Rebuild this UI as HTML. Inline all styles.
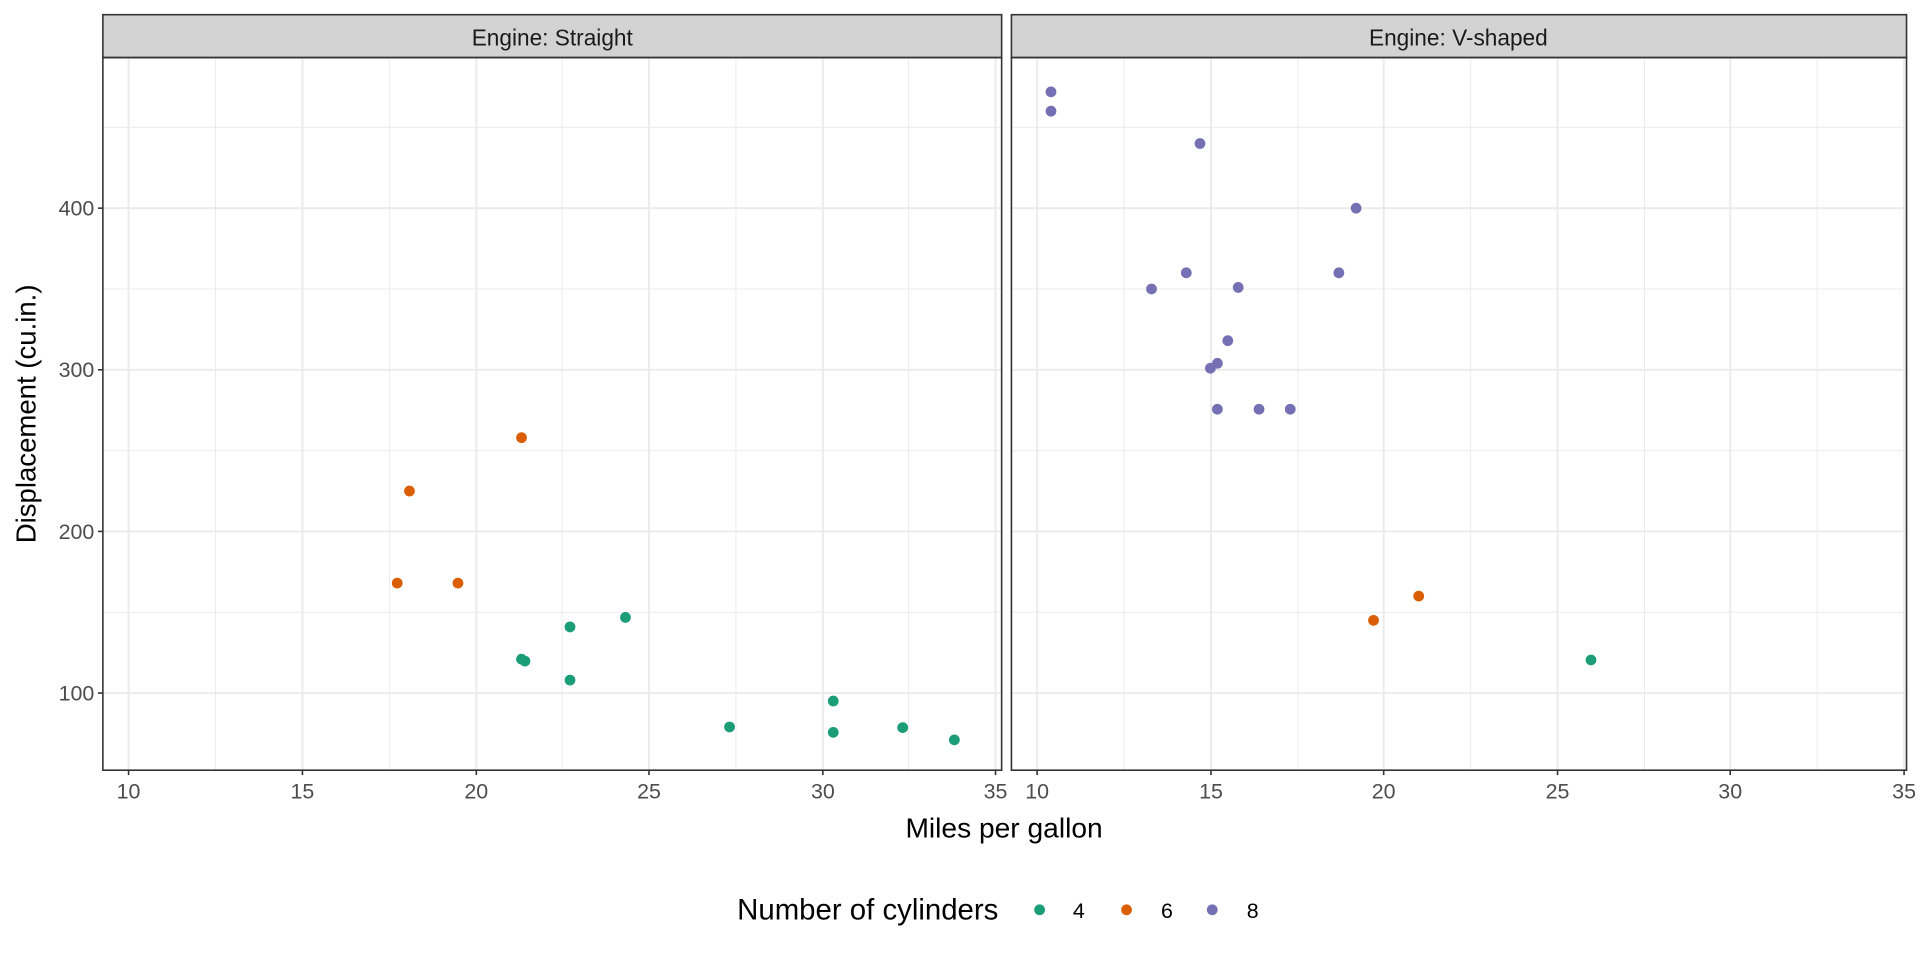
<!DOCTYPE html>
<html><head><style>html,body{margin:0;padding:0;background:#fff}svg{display:block}</style></head>
<body>
<svg width="1920" height="960" viewBox="0 0 1568 784" xmlns="http://www.w3.org/2000/svg" font-family="Liberation Sans, sans-serif">
<rect width="1568" height="784" fill="#fff"/>
<!-- Panel 1 -->
<g>
 <g stroke="#ebebeb" stroke-width="0.8">
  <line x1="84" x2="818" y1="500" y2="500"/><line x1="84" x2="818" y1="368" y2="368"/><line x1="84" x2="818" y1="236" y2="236"/><line x1="84" x2="818" y1="104" y2="104"/>
  <line y1="47" y2="629" x1="176" x2="176"/><line y1="47" y2="629" x1="318" x2="318"/><line y1="47" y2="629" x1="459" x2="459"/><line y1="47" y2="629" x1="601" x2="601"/><line y1="47" y2="629" x1="742" x2="742"/>
 </g>
 <g stroke="#ebebeb" stroke-width="1.6">
  <line x1="84" x2="818" y1="566" y2="566"/><line x1="84" x2="818" y1="434" y2="434"/><line x1="84" x2="818" y1="302" y2="302"/><line x1="84" x2="818" y1="170" y2="170"/>
  <line y1="47" y2="629" x1="105" x2="105"/><line y1="47" y2="629" x1="247" x2="247"/><line y1="47" y2="629" x1="389" x2="389"/><line y1="47" y2="629" x1="530" x2="530"/><line y1="47" y2="629" x1="672" x2="672"/><line y1="47" y2="629" x1="813" x2="813"/>
 </g>
 <rect x="84" y="12" width="734" height="35" fill="#d3d3d3" stroke="#333" stroke-width="1.3"/>
 <text x="451" y="37" font-size="18.5" text-anchor="middle" fill="#1a1a1a">Engine: Straight</text>
 <rect x="84" y="47" width="734" height="582" fill="none" stroke="#333" stroke-width="1.3"/>
</g>
<!-- Panel 2 -->
<g>
 <g stroke="#ebebeb" stroke-width="0.8">
  <line x1="826" x2="1557" y1="500" y2="500"/><line x1="826" x2="1557" y1="368" y2="368"/><line x1="826" x2="1557" y1="236" y2="236"/><line x1="826" x2="1557" y1="104" y2="104"/>
  <line y1="47" y2="629" x1="918" x2="918"/><line y1="47" y2="629" x1="1060" x2="1060"/><line y1="47" y2="629" x1="1201" x2="1201"/><line y1="47" y2="629" x1="1343" x2="1343"/><line y1="47" y2="629" x1="1484" x2="1484"/>
 </g>
 <g stroke="#ebebeb" stroke-width="1.6">
  <line x1="826" x2="1557" y1="566" y2="566"/><line x1="826" x2="1557" y1="434" y2="434"/><line x1="826" x2="1557" y1="302" y2="302"/><line x1="826" x2="1557" y1="170" y2="170"/>
  <line y1="47" y2="629" x1="847" x2="847"/><line y1="47" y2="629" x1="989" x2="989"/><line y1="47" y2="629" x1="1130" x2="1130"/><line y1="47" y2="629" x1="1272" x2="1272"/><line y1="47" y2="629" x1="1413" x2="1413"/><line y1="47" y2="629" x1="1555" x2="1555"/>
 </g>
 <rect x="826" y="12" width="731" height="35" fill="#d3d3d3" stroke="#333" stroke-width="1.3"/>
 <text x="1191" y="37" font-size="18.5" text-anchor="middle" fill="#1a1a1a">Engine: V-shaped</text>
 <rect x="826" y="47" width="731" height="582" fill="none" stroke="#333" stroke-width="1.3"/>
</g>
<!-- ticks -->
<g stroke="#333" stroke-width="1.3">
 <line x1="80" x2="84" y1="566" y2="566"/><line x1="80" x2="84" y1="434" y2="434"/><line x1="80" x2="84" y1="302" y2="302"/><line x1="80" x2="84" y1="170" y2="170"/>
 <line y1="629" y2="633" x1="105" x2="105"/><line y1="629" y2="633" x1="247" x2="247"/><line y1="629" y2="633" x1="389" x2="389"/><line y1="629" y2="633" x1="530" x2="530"/><line y1="629" y2="633" x1="672" x2="672"/><line y1="629" y2="633" x1="813" x2="813"/>
 <line y1="629" y2="633" x1="847" x2="847"/><line y1="629" y2="633" x1="989" x2="989"/><line y1="629" y2="633" x1="1130" x2="1130"/><line y1="629" y2="633" x1="1272" x2="1272"/><line y1="629" y2="633" x1="1413" x2="1413"/><line y1="629" y2="633" x1="1555" x2="1555"/>
</g>
<g font-size="17.5" fill="#4d4d4d" text-anchor="end">
 <text x="77" y="572">100</text><text x="77" y="440">200</text><text x="77" y="308">300</text><text x="77" y="176">400</text>
</g>
<g font-size="17.5" fill="#4d4d4d" text-anchor="middle">
 <text x="105" y="652">10</text><text x="247" y="652">15</text><text x="389" y="652">20</text><text x="530" y="652">25</text><text x="672" y="652">30</text><text x="813" y="652">35</text>
 <text x="847" y="652">10</text><text x="989" y="652">15</text><text x="1130" y="652">20</text><text x="1272" y="652">25</text><text x="1413" y="652">30</text><text x="1555" y="652">35</text>
</g>
<text x="820" y="684" font-size="23" text-anchor="middle" fill="#000">Miles per gallon</text>
<text transform="translate(29,338) rotate(-90)" font-size="22.5" text-anchor="middle" fill="#000">Displacement (cu.in.)</text>
<!-- points -->
<g fill="#1b9e77">
 <circle cx="465.5" cy="555.4" r="4.4"/><circle cx="510.8" cy="504.2" r="4.4"/><circle cx="465.5" cy="512.0" r="4.4"/><circle cx="737.2" cy="594.2" r="4.4"/><circle cx="680.5" cy="598.1" r="4.4"/><circle cx="779.4" cy="604.2" r="4.4"/><circle cx="428.7" cy="539.9" r="4.4"/><circle cx="595.8" cy="593.7" r="4.4"/><circle cx="680.5" cy="572.5" r="4.4"/><circle cx="425.9" cy="538.3" r="4.4"/>
 <circle cx="1299.3" cy="539.0" r="4.4"/>
</g>
<g fill="#d95f02">
 <circle cx="425.9" cy="357.4" r="4.4"/><circle cx="334.4" cy="401.0" r="4.4"/><circle cx="374.0" cy="476.2" r="4.4"/><circle cx="324.4" cy="476.2" r="4.4"/>
 <circle cx="1158.6" cy="486.8" r="4.4"/><circle cx="1121.7" cy="506.6" r="4.4"/>
</g>
<g fill="#7570b3">
 <circle cx="1093.4" cy="222.8" r="4.4"/><circle cx="968.8" cy="222.8" r="4.4"/><circle cx="1028.2" cy="334.2" r="4.4"/><circle cx="1053.7" cy="334.2" r="4.4"/><circle cx="994.2" cy="334.2" r="4.4"/><circle cx="858.3" cy="75.0" r="4.4"/><circle cx="858.3" cy="90.8" r="4.4"/><circle cx="980.0" cy="117.2" r="4.4"/><circle cx="1002.7" cy="278.2" r="4.4"/><circle cx="994.2" cy="296.7" r="4.4"/><circle cx="940.4" cy="236.0" r="4.4"/><circle cx="1107.5" cy="170.0" r="4.4"/><circle cx="1011.2" cy="234.7" r="4.4"/><circle cx="988.5" cy="300.7" r="4.4"/>
</g>
<!-- legend -->
<text x="602" y="751" font-size="24" fill="#000">Number of cylinders</text>
<circle cx="849" cy="743" r="4.4" fill="#1b9e77"/><text x="881" y="749.5" font-size="17.5" text-anchor="middle" fill="#000">4</text>
<circle cx="920" cy="743" r="4.4" fill="#d95f02"/><text x="953" y="749.5" font-size="17.5" text-anchor="middle" fill="#000">6</text>
<circle cx="990" cy="743" r="4.4" fill="#7570b3"/><text x="1023" y="749.5" font-size="17.5" text-anchor="middle" fill="#000">8</text>
</svg>
</body></html>
